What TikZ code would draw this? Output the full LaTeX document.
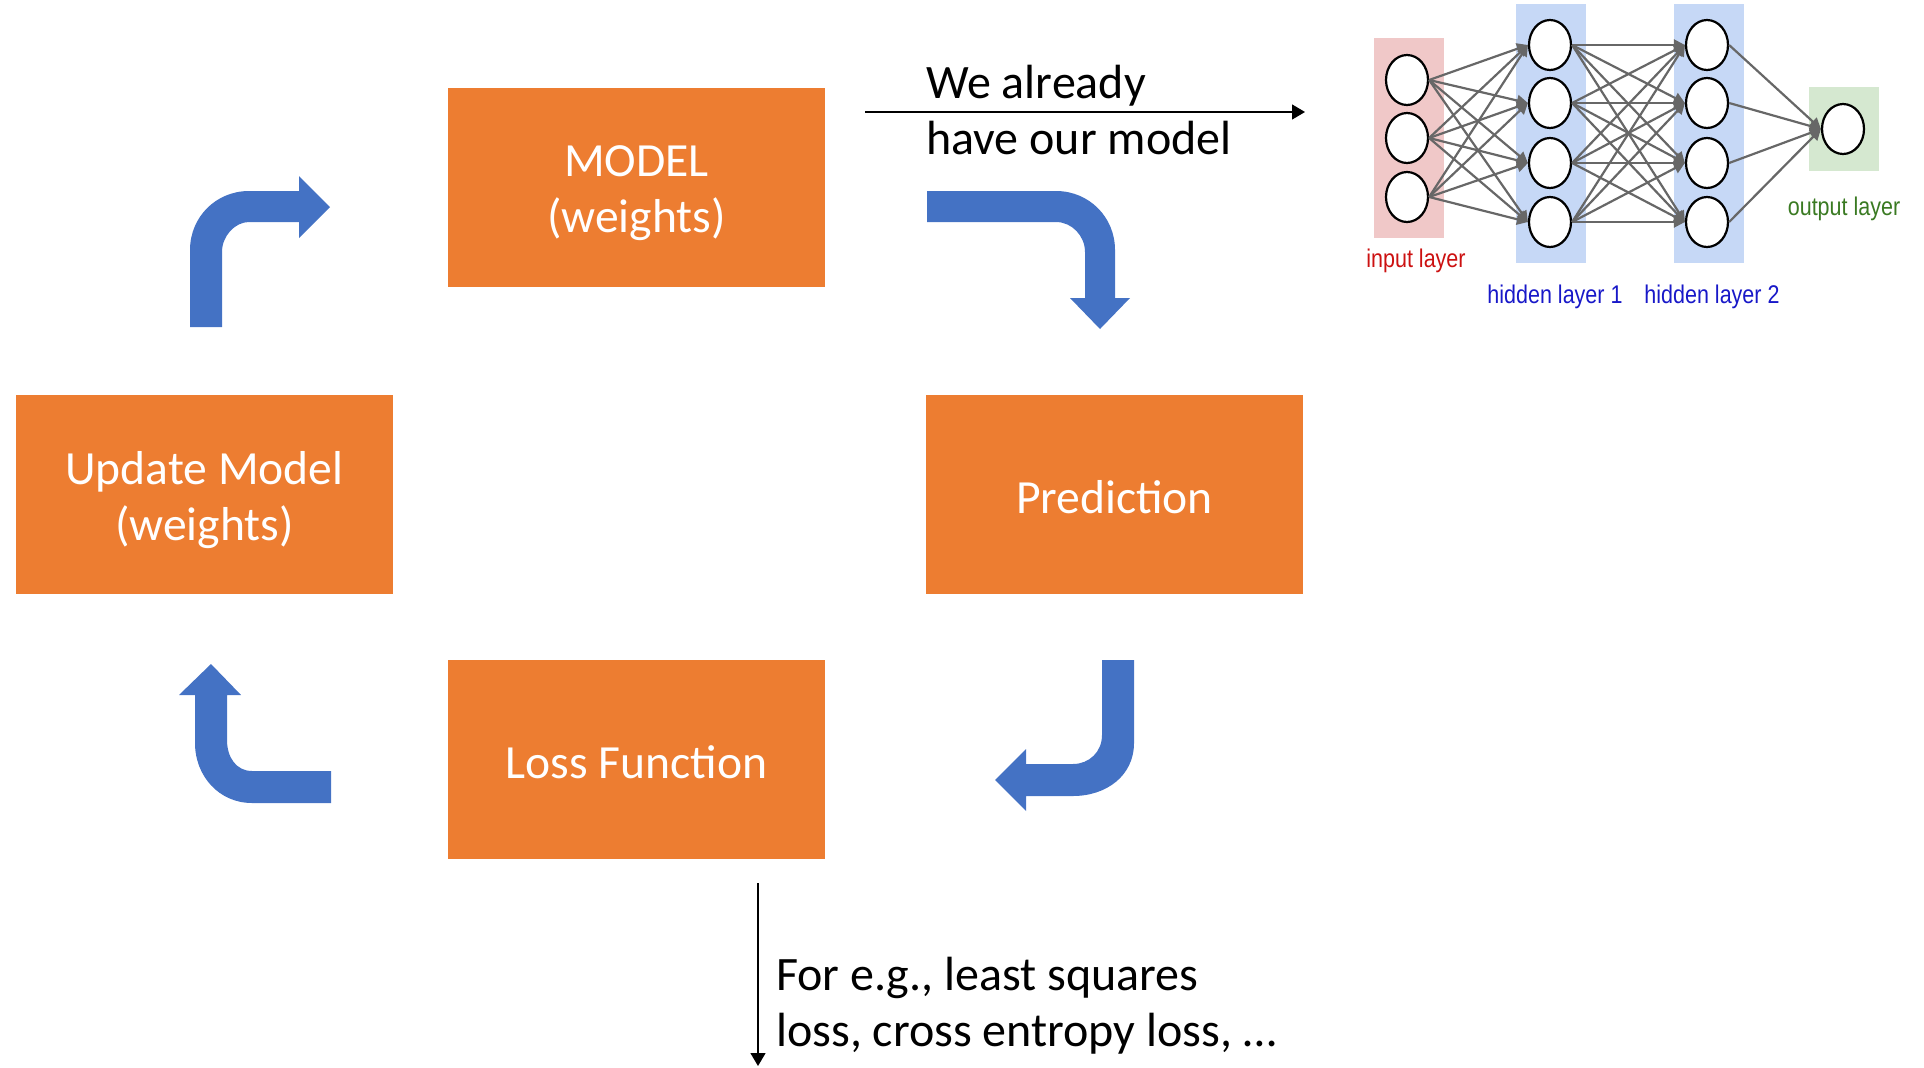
\documentclass[tikz,border=0pt]{standalone}
\usepackage{fontspec}
\usepackage{graphicx}
\setmainfont{Carlito}
\newfontfamily\nnfont{Liberation Sans}
\usetikzlibrary{shapes.geometric,arrows.meta}

\definecolor{boxorange}{HTML}{ED7D31}
\definecolor{flowblue}{HTML}{4472C4}
\definecolor{inpink}{HTML}{F0C8C8}
\definecolor{hidblue}{HTML}{C6D8F6}
\definecolor{outgreen}{HTML}{D5E8D0}
\definecolor{edgegray}{HTML}{676767}
\definecolor{lblred}{HTML}{CC1111}
\definecolor{lblblue}{HTML}{1818C8}
\definecolor{lblgreen}{HTML}{3A7A22}

\tikzset{
  stepbox/.style={rectangle, fill=boxorange, minimum width=377bp, minimum height=199bp,
    inner sep=0pt},
  boxtext/.style={inner sep=0pt, text=white, align=center,
    font=\fontsize{47.6bp}{56bp}\selectfont},
  note/.style={anchor=base west, inner sep=0pt, font=\fontsize{48bp}{56bp}\selectfont},
  thinarrow/.style={line width=1.3bp, -{Triangle[length=13bp,width=15bp]}},
  flow/.style={fill=flowblue, draw=none},
  neuron/.style={ellipse, draw=black, line width=2.2bp, fill=white,
    minimum width=42bp, minimum height=50bp, inner sep=0pt},
  nnedge/.style={draw=edgegray, line width=2.2bp,
    -{Triangle[length=11bp,width=11bp]}},
  nnlabel/.style={inner sep=0pt, font=\nnfont\fontsize{21.5bp}{24bp}\selectfont}
}

\begin{document}
\begin{tikzpicture}[x=1bp,y=-1bp]
\useasboundingbox (0,0) rectangle (1924,1067);

% ---- training loop boxes ----
\node[stepbox] (model)  at (636.5,187.5)  {};
\node[stepbox] (update) at (204.5,494.5)  {};
\node[stepbox] (pred)   at (1114.5,494.5) {};
\node[stepbox] (loss)   at (636.5,759.5)  {};
\node[boxtext] (modelT)  at ([yshift=-6bp]model.center)  {MODEL\\(weights)};
\node[boxtext] (updateT) at ([yshift=-6bp]update.center) {Update Model\\(weights)};
\node[boxtext] (predT)   at ([yshift=-3bp]pred.center)   {Prediction};
\node[boxtext] (lossT)   at ([yshift=-3bp]loss.center)   {Loss Function};

% ---- bent block arrows between the steps ----
% update -> model
\path[flow] (190,327) -- (190,250) .. controls (190,217) and (216,191) .. (249,191)
  -- (299,191) -- (299,176) -- (330,207) -- (299,238) -- (299,222) -- (249,222)
  .. controls (235,222) and (222,236) .. (222,252) -- (222,327) -- cycle;
% model -> prediction
\path[flow] (927,191) -- (1056,191) .. controls (1089,191) and (1115,217) .. (1115,250)
  -- (1115,298) -- (1130,298) -- (1100,329) -- (1070,298) -- (1085,298) -- (1085,252)
  .. controls (1085,236) and (1072,222) .. (1056,222) -- (927,222) -- cycle;
% prediction -> loss
\path[flow] (1134,660) -- (1134,743) .. controls (1134,776) and (1106,796) .. (1073,796)
  -- (1026,796) -- (1026,811) -- (995,780) -- (1026,749) -- (1026,764) -- (1073,764)
  .. controls (1089,764) and (1102,752) .. (1102,735) -- (1102,660) -- cycle;
% loss -> update
\path[flow] (331,803) -- (252,803) .. controls (219,803) and (195,776) .. (195,743)
  -- (195,695) -- (179,695) -- (211,664) -- (241,695) -- (227,695) -- (227,740)
  .. controls (227,757) and (236,771) .. (252,771) -- (331,771) -- cycle;

% ---- annotations ----
\coordinate (haveL) at (865,112);
\coordinate (haveR) at (1305,112);
\draw[thinarrow] (haveL) -- (haveR);
\node[note] (have1) at (926,98)  {We already};
\node[note] (have2) at (926,154) {have our model};

\coordinate (egT) at (758,883);
\coordinate (egB) at (758,1066);
\draw[thinarrow] (egT) -- (egB);
\node[note] (eg1) at (776,990)  {For e.g., least squares};
\node[note] (eg2) at (776,1046) {loss, cross entropy loss, …};

% ---- small feed-forward network ----
\fill[inpink]   (1374,38) rectangle (1444,238);
\fill[hidblue]  (1516,4)  rectangle (1586,263);
\fill[hidblue]  (1674,4)  rectangle (1744,263);
\fill[outgreen] (1809,87) rectangle (1879,171);

\foreach \k/\y in {1/80,2/138,3/197}
  \node[neuron] (in\k) at (1407,\y) {};
\foreach \k/\y in {1/45,2/103,3/163,4/222} {
  \node[neuron] (ha\k) at (1550,\y) {};
  \node[neuron] (hb\k) at (1707,\y) {};
}
\node[neuron] (out) at (1843,129) {};

\foreach \i in {1,2,3}
  \foreach \j in {1,2,3,4}
    \draw[nnedge] (in\i.east) -- (ha\j.west);
\foreach \i in {1,2,3,4}
  \foreach \j in {1,2,3,4}
    \draw[nnedge] (ha\i.east) -- (hb\j.west);
\foreach \i in {1,2,3,4}
  \draw[nnedge] (hb\i.east) -- (out.west);

\node[nnlabel, text=lblred]   (lin)  at (1416,261) {\scalebox{1}[1.19]{input layer}};
\node[nnlabel, text=lblblue]  (lha)  at (1555,297) {\scalebox{1}[1.19]{hidden layer 1}};
\node[nnlabel, text=lblblue]  (lhb)  at (1712,297) {\scalebox{1}[1.19]{hidden layer 2}};
\node[nnlabel, text=lblgreen] (lout) at (1844,209) {\scalebox{1}[1.19]{output layer}};
\end{tikzpicture}
\end{document}
